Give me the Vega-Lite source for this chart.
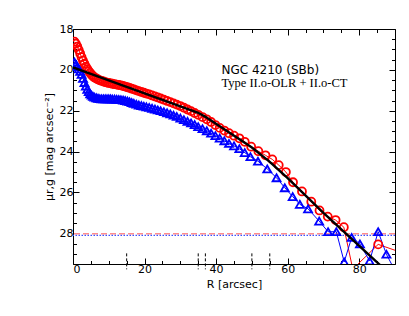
{
  "$schema": "https://vega.github.io/schema/vega-lite/v6.json",
  "width": 322,
  "height": 235,
  "autosize": {"type": "pad"},
  "padding": {"left": 43, "top": 23, "right": 5, "bottom": 5},
  "config": {
    "view": {"stroke": "#000", "strokeWidth": 1},
    "axis": {"domain": false, "grid": false, "labelFont": "DejaVu Sans", "labelFontSize": 11, "labelColor": "#000", "titleFont": "DejaVu Sans", "titleFontSize": 11, "titleFontWeight": "normal", "titleColor": "#000", "tickColor": "#000", "tickWidth": 1, "labelOverlap": false, "format": ".0f"}
  },
  "datasets": {
    "red": [
      {"R": 0.4, "mag": 18.62}, {"R": 0.8, "mag": 18.72}, {"R": 1.2, "mag": 18.86}, {"R": 1.6, "mag": 19.02},
      {"R": 2.0, "mag": 19.2}, {"R": 2.4, "mag": 19.38}, {"R": 2.8, "mag": 19.55}, {"R": 3.2, "mag": 19.7},
      {"R": 3.6, "mag": 19.84}, {"R": 4.0, "mag": 19.96}, {"R": 4.4, "mag": 20.06}, {"R": 4.8, "mag": 20.15},
      {"R": 5.2, "mag": 20.24}, {"R": 5.6, "mag": 20.31}, {"R": 6.0, "mag": 20.37}, {"R": 6.5, "mag": 20.42},
      {"R": 7.0, "mag": 20.47}, {"R": 7.5, "mag": 20.51}, {"R": 8.0, "mag": 20.54}, {"R": 8.5, "mag": 20.57},
      {"R": 9.0, "mag": 20.6}, {"R": 9.5, "mag": 20.62}, {"R": 10.0, "mag": 20.64}, {"R": 10.5, "mag": 20.66},
      {"R": 11.0, "mag": 20.68}, {"R": 11.6, "mag": 20.7}, {"R": 12.2, "mag": 20.72}, {"R": 12.8, "mag": 20.74},
      {"R": 13.4, "mag": 20.76}, {"R": 14.0, "mag": 20.79}, {"R": 14.6, "mag": 20.82}, {"R": 15.2, "mag": 20.85},
      {"R": 15.8, "mag": 20.88}, {"R": 16.4, "mag": 20.92}, {"R": 17.0, "mag": 20.95}, {"R": 17.7, "mag": 21.0},
      {"R": 18.4, "mag": 21.04}, {"R": 19.1, "mag": 21.08}, {"R": 19.8, "mag": 21.12}, {"R": 20.5, "mag": 21.16},
      {"R": 21.3, "mag": 21.2}, {"R": 22.1, "mag": 21.25}, {"R": 22.9, "mag": 21.3}, {"R": 23.7, "mag": 21.35},
      {"R": 24.5, "mag": 21.4}, {"R": 25.4, "mag": 21.46}, {"R": 26.3, "mag": 21.52}, {"R": 27.2, "mag": 21.58},
      {"R": 28.1, "mag": 21.64}, {"R": 29.0, "mag": 21.7}, {"R": 30.0, "mag": 21.77}, {"R": 31.0, "mag": 21.85},
      {"R": 32.0, "mag": 21.94}, {"R": 33.0, "mag": 22.02}, {"R": 34.0, "mag": 22.11}, {"R": 35.0, "mag": 22.2},
      {"R": 36.2, "mag": 22.31}, {"R": 37.4, "mag": 22.42}, {"R": 38.6, "mag": 22.55}, {"R": 39.8, "mag": 22.7},
      {"R": 41.0, "mag": 22.84}, {"R": 42.3, "mag": 22.97}, {"R": 43.6, "mag": 23.1}, {"R": 45.0, "mag": 23.22},
      {"R": 46.5, "mag": 23.35}, {"R": 48.0, "mag": 23.52}, {"R": 49.8, "mag": 23.76}, {"R": 51.8, "mag": 23.98},
      {"R": 53.8, "mag": 24.18}, {"R": 55.7, "mag": 24.38}, {"R": 57.5, "mag": 24.66}, {"R": 59.5, "mag": 25.0},
      {"R": 61.5, "mag": 25.5}, {"R": 64.0, "mag": 25.95}, {"R": 66.6, "mag": 26.45}, {"R": 68.9, "mag": 26.88},
      {"R": 71.2, "mag": 27.18}, {"R": 73.4, "mag": 27.35}, {"R": 75.7, "mag": 27.7}, {"R": 78.2, "mag": 29.75},
      {"R": 85.3, "mag": 28.54}, {"R": 92.0, "mag": 28.95}
    ],
    "blue": [
      {"R": 0.4, "mag": 19.62}, {"R": 0.8, "mag": 19.72}, {"R": 1.2, "mag": 19.84}, {"R": 1.6, "mag": 19.95},
      {"R": 2.0, "mag": 20.07}, {"R": 2.4, "mag": 20.22}, {"R": 2.8, "mag": 20.42}, {"R": 3.2, "mag": 20.62},
      {"R": 3.6, "mag": 20.8}, {"R": 4.0, "mag": 20.95}, {"R": 4.4, "mag": 21.07}, {"R": 4.8, "mag": 21.17},
      {"R": 5.2, "mag": 21.24}, {"R": 5.6, "mag": 21.3}, {"R": 6.0, "mag": 21.34}, {"R": 6.5, "mag": 21.37},
      {"R": 7.0, "mag": 21.39}, {"R": 7.5, "mag": 21.41}, {"R": 8.0, "mag": 21.42}, {"R": 8.5, "mag": 21.42},
      {"R": 9.0, "mag": 21.42}, {"R": 9.5, "mag": 21.42}, {"R": 10.0, "mag": 21.42}, {"R": 10.5, "mag": 21.42},
      {"R": 11.0, "mag": 21.43}, {"R": 11.6, "mag": 21.43}, {"R": 12.2, "mag": 21.44}, {"R": 12.8, "mag": 21.45},
      {"R": 13.4, "mag": 21.46}, {"R": 14.0, "mag": 21.48}, {"R": 14.6, "mag": 21.5}, {"R": 15.2, "mag": 21.53},
      {"R": 15.8, "mag": 21.56}, {"R": 16.4, "mag": 21.6}, {"R": 17.0, "mag": 21.64}, {"R": 17.7, "mag": 21.68},
      {"R": 18.4, "mag": 21.72}, {"R": 19.1, "mag": 21.75}, {"R": 19.8, "mag": 21.78}, {"R": 20.5, "mag": 21.81},
      {"R": 21.3, "mag": 21.84}, {"R": 22.1, "mag": 21.88}, {"R": 22.9, "mag": 21.92}, {"R": 23.7, "mag": 21.96},
      {"R": 24.5, "mag": 22.0}, {"R": 25.4, "mag": 22.05}, {"R": 26.3, "mag": 22.1}, {"R": 27.2, "mag": 22.16},
      {"R": 28.1, "mag": 22.22}, {"R": 29.0, "mag": 22.28}, {"R": 30.0, "mag": 22.36}, {"R": 31.0, "mag": 22.44},
      {"R": 32.0, "mag": 22.52}, {"R": 33.0, "mag": 22.6}, {"R": 34.0, "mag": 22.68}, {"R": 35.0, "mag": 22.78},
      {"R": 36.2, "mag": 22.88}, {"R": 37.4, "mag": 22.98}, {"R": 38.6, "mag": 23.1}, {"R": 39.8, "mag": 23.22},
      {"R": 41.0, "mag": 23.34}, {"R": 42.3, "mag": 23.47}, {"R": 43.6, "mag": 23.6}, {"R": 45.0, "mag": 23.72},
      {"R": 46.5, "mag": 23.86}, {"R": 48.0, "mag": 24.05}, {"R": 49.6, "mag": 24.25}, {"R": 51.7, "mag": 24.47},
      {"R": 54.3, "mag": 24.85}, {"R": 56.9, "mag": 25.28}, {"R": 59.2, "mag": 25.77}, {"R": 61.4, "mag": 26.2},
      {"R": 63.4, "mag": 26.58}, {"R": 65.7, "mag": 26.8}, {"R": 68.8, "mag": 27.4}, {"R": 71.3, "mag": 27.92},
      {"R": 73.6, "mag": 27.92}, {"R": 75.8, "mag": 29.4}, {"R": 77.9, "mag": 28.2}, {"R": 80.2, "mag": 28.52},
      {"R": 82.9, "mag": 29.35}, {"R": 85.3, "mag": 27.92}, {"R": 87.6, "mag": 29.02}, {"R": 90.5, "mag": 30.0}
    ],
    "fit": [
      {"R": 0, "mag": 19.88}, {"R": 15, "mag": 20.83}, {"R": 35, "mag": 22.1}, {"R": 37, "mag": 22.3},
      {"R": 50, "mag": 23.8}, {"R": 55, "mag": 24.5}, {"R": 60, "mag": 25.3}, {"R": 70, "mag": 27.0},
      {"R": 86, "mag": 29.58}
    ],
    "breaks": [
      {"R": 15, "lo": 28.98, "hi": 29.76}, {"R": 35, "lo": 28.98, "hi": 29.76}, {"R": 37, "lo": 28.98, "hi": 29.76},
      {"R": 50, "lo": 28.98, "hi": 29.76}, {"R": 55, "lo": 28.98, "hi": 29.76}
    ]
  },
  "layer": [
    {
      "data": {"values": [{"mag": 28.02}]},
      "mark": {"type": "rule", "color": "#ff8c8c", "strokeWidth": 1.5, "strokeDash": [6, 3]},
      "encoding": {
        "y": {"field": "mag", "type": "quantitative", "scale": {"domain": [18, 29.5], "reverse": true, "nice": false, "zero": false},
              "axis": {"orient": "left", "values": [18, 18.5, 19, 19.5, 20, 20.5, 21, 21.5, 22, 22.5, 23, 23.5, 24, 24.5, 25, 25.5, 26, 26.5, 27, 27.5, 28, 28.5, 29, 29.5],
                       "tickSize": {"condition": {"test": "datum.value % 2 === 0", "value": -6}, "value": -3.5},
                       "labelExpr": "datum.value % 2 === 0 ? datum.label : ''",
                       "labelPadding": 6, "title": "μr,g   [mag arcsec⁻²]", "titlePadding": 5}}
      }
    },
    {
      "data": {"values": [{"mag": 28.1}]},
      "mark": {"type": "rule", "color": "#3c50ff", "strokeWidth": 1.2, "strokeDash": [1.5, 1.5]},
      "encoding": {
        "y": {"field": "mag", "type": "quantitative",
              "axis": {"orient": "right", "values": [18, 18.5, 19, 19.5, 20, 20.5, 21, 21.5, 22, 22.5, 23, 23.5, 24, 24.5, 25, 25.5, 26, 26.5, 27, 27.5, 28, 28.5, 29, 29.5],
                       "tickSize": {"condition": {"test": "datum.value % 2 === 0", "value": -6}, "value": -3.5},
                       "labels": false, "title": null}}
      }
    },
    {
      "data": {"name": "red"},
      "mark": {"type": "line", "color": "#ff0000", "strokeWidth": 1, "clip": true},
      "encoding": {
        "x": {"field": "R", "type": "quantitative", "scale": {"domain": [0, 90], "nice": false, "zero": false},
              "axis": {"orient": "bottom", "values": [0, 5, 10, 15, 20, 25, 30, 35, 40, 45, 50, 55, 60, 65, 70, 75, 80, 85, 90],
                       "tickSize": {"condition": {"test": "datum.value % 20 === 0", "value": -6}, "value": -3.5},
                       "labelExpr": "datum.value % 20 === 0 && datum.value < 90 ? datum.label : ''",
                       "labelPadding": 5, "title": "R [arcsec]", "titlePadding": 2}},
        "y": {"field": "mag", "type": "quantitative", "axis": null}
      }
    },
    {
      "data": {"name": "blue"},
      "mark": {"type": "line", "color": "#0000ff", "strokeWidth": 1, "clip": true},
      "encoding": {
        "x": {"field": "R", "type": "quantitative",
              "axis": {"orient": "top", "values": [0, 5, 10, 15, 20, 25, 30, 35, 40, 45, 50, 55, 60, 65, 70, 75, 80, 85, 90],
                       "tickSize": {"condition": {"test": "datum.value % 20 === 0", "value": -6}, "value": -3.5},
                       "labels": false, "title": null}},
        "y": {"field": "mag", "type": "quantitative", "axis": null}
      }
    },
    {
      "data": {"name": "red"},
      "mark": {"type": "point", "shape": "circle", "filled": false, "color": "#ff0000", "strokeWidth": 1.8, "size": 64, "opacity": 1, "clip": true},
      "encoding": {
        "x": {"field": "R", "type": "quantitative", "axis": null},
        "y": {"field": "mag", "type": "quantitative", "axis": null}
      }
    },
    {
      "data": {"name": "blue"},
      "mark": {"type": "point", "shape": "triangle-up", "filled": false, "color": "#0000ff", "strokeWidth": 1.8, "size": 64, "opacity": 1, "clip": true},
      "encoding": {
        "x": {"field": "R", "type": "quantitative", "axis": null},
        "y": {"field": "mag", "type": "quantitative", "axis": null}
      }
    },
    {
      "data": {"name": "fit"},
      "mark": {"type": "line", "color": "#000000", "strokeWidth": 2.4, "clip": true},
      "encoding": {
        "x": {"field": "R", "type": "quantitative", "axis": null},
        "y": {"field": "mag", "type": "quantitative", "axis": null}
      }
    },
    {
      "data": {"name": "breaks"},
      "mark": {"type": "rule", "color": "#000000", "strokeWidth": 1, "strokeDash": [3, 2], "clip": false},
      "encoding": {
        "x": {"field": "R", "type": "quantitative", "axis": null},
        "y": {"field": "lo", "type": "quantitative", "axis": null},
        "y2": {"field": "hi"}
      }
    },
    {
      "data": {"values": [{"R": 41.5, "mag": 20.2, "label": "NGC 4210 (SBb)"}]},
      "mark": {"type": "text", "align": "left", "baseline": "alphabetic", "font": "DejaVu Sans", "fontSize": 12, "color": "#000"},
      "encoding": {
        "x": {"field": "R", "type": "quantitative", "axis": null},
        "y": {"field": "mag", "type": "quantitative", "axis": null},
        "text": {"field": "label"}
      }
    },
    {
      "data": {"values": [{"R": 41.5, "mag": 20.84, "label": "Type II.o-OLR + II.o-CT"}]},
      "mark": {"type": "text", "align": "left", "baseline": "alphabetic", "font": "Liberation Serif", "fontSize": 12.5, "color": "#000"},
      "encoding": {
        "x": {"field": "R", "type": "quantitative", "axis": null},
        "y": {"field": "mag", "type": "quantitative", "axis": null},
        "text": {"field": "label"}
      }
    }
  ],
  "resolve": {"axis": {"x": "independent", "y": "independent"}}
}
